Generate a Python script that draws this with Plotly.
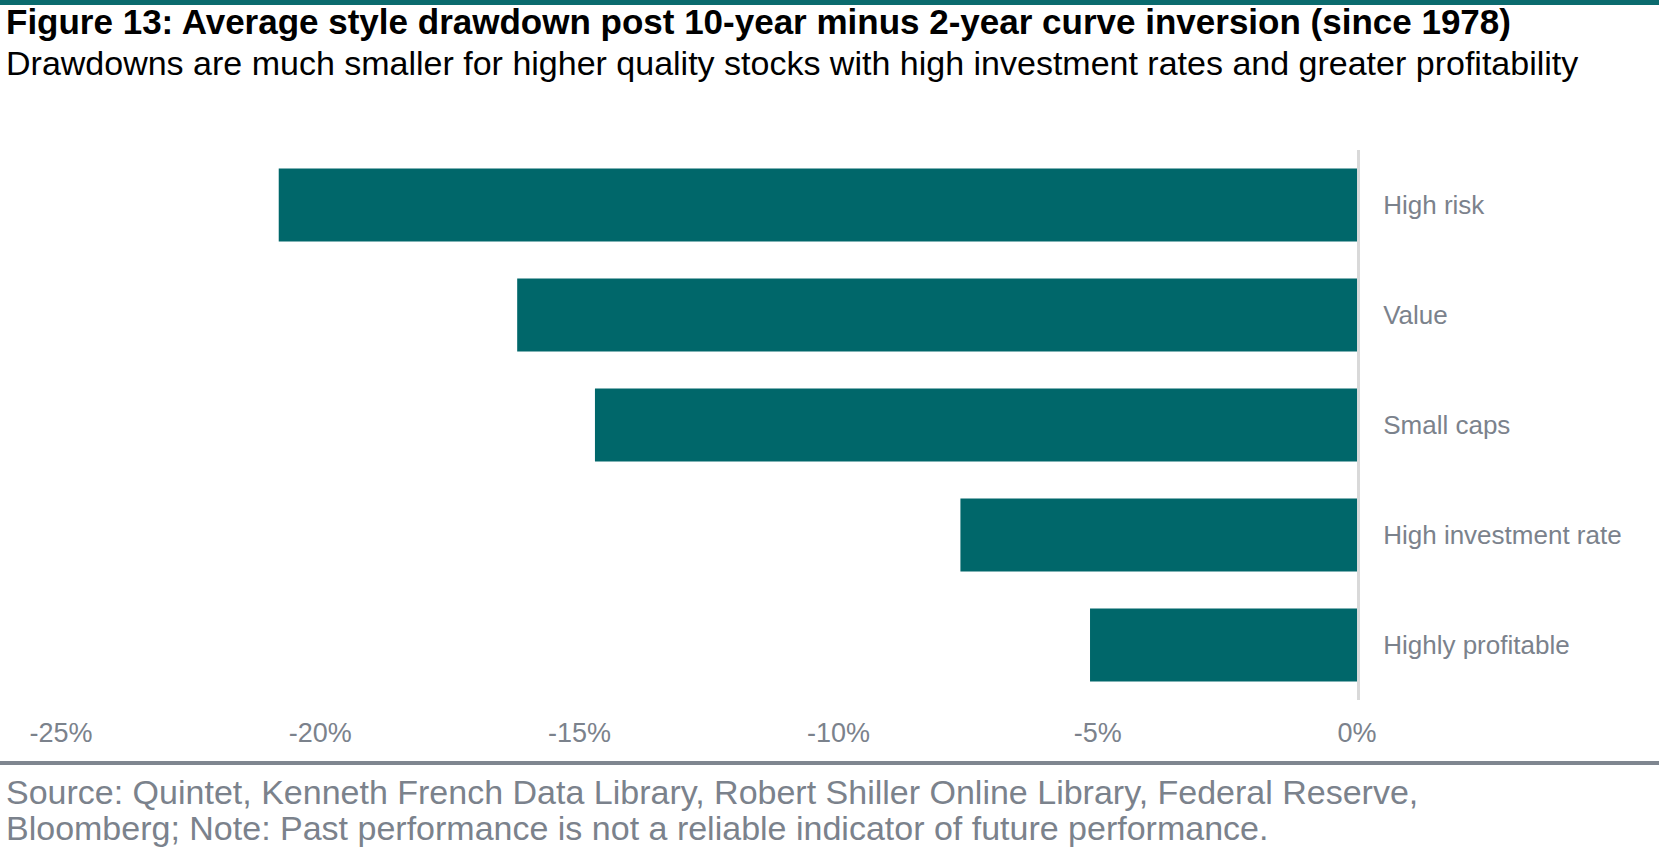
import plotly.graph_objects as go

categories = ["High risk", "Value", "Small caps", "High investment rate", "Highly profitable"]
drawdown = [-20.8, -16.2, -14.7, -7.65, -5.15]
tick_vals = [-25, -20, -15, -10, -5, 0]
tick_text = ["-25%", "-20%", "-15%", "-10%", "-5%", "0%"]

title = "Figure 13: Average style drawdown post 10-year minus 2-year curve inversion (since 1978)"
subtitle = "Drawdowns are much smaller for higher quality stocks with high investment rates and greater profitability"
footnote_1 = "Source: Quintet, Kenneth French Data Library, Robert Shiller Online Library, Federal Reserve,"
footnote_2 = "Bloomberg; Note: Past performance is not a reliable indicator of future performance."

TEAL = "#00676A"
GREY_TXT = "#7B828C"
FONT = "Liberation Sans, Arial, sans-serif"

W, H = 1659, 858
L, R, T, B = 61, 302, 150, 158
PW, PH = W - L - R, H - T - B


def px_x(p):
    return (p - L) / PW


def px_y(p):
    return (H - B - p) / PH


heading = ('<span style="font-size:35px"><b>' + title + '</b></span><br>'
           '<span style="font-size:34px">' + subtitle + '</span>')

fig = go.Figure(go.Bar(
    x=drawdown, y=categories, orientation="h",
    marker=dict(color=TEAL, line=dict(width=0)),
    showlegend=False, hoverinfo="skip",
))

fig.update_layout(
    width=W, height=H,
    margin=dict(l=L, r=R, t=T, b=B),
    paper_bgcolor="white", plot_bgcolor="white",
    bargap=0.336,
    font=dict(family=FONT, color=GREY_TXT, size=28),
    xaxis=dict(range=[-25, 0], tickvals=tick_vals, ticktext=tick_text,
               showgrid=False, zeroline=False, showline=False, ticks="",
               tickfont=dict(size=27, color=GREY_TXT), ticklabelstandoff=14,
               fixedrange=True),
    yaxis=dict(categoryorder="array", categoryarray=categories, autorange="reversed",
               side="right", showgrid=False, zeroline=False,
               showline=True, linecolor="#D9D9D9", linewidth=3, ticks="",
               tickfont=dict(size=26, color=GREY_TXT), ticklabelstandoff=18,
               fixedrange=True),
    shapes=[
        dict(type="line", xref="paper", yref="paper", x0=px_x(0), x1=px_x(W),
             y0=px_y(2.5), y1=px_y(2.5), line=dict(color="#0B6B6E", width=5)),
        dict(type="line", xref="paper", yref="paper", x0=px_x(0), x1=px_x(W),
             y0=px_y(763), y1=px_y(763), line=dict(color="#7F8690", width=4)),
    ],
    annotations=[
        dict(text=heading, xref="paper", yref="paper", x=px_x(4), y=px_y(41.5),
             xanchor="left", yanchor="middle", align="left", showarrow=False,
             font=dict(family=FONT, size=31.5, color="#000000")),
        dict(text=footnote_1, xref="paper", yref="paper", x=px_x(4), y=px_y(792),
             xanchor="left", yanchor="middle", align="left", showarrow=False,
             font=dict(family=FONT, size=34, color=GREY_TXT)),
        dict(text=footnote_2, xref="paper", yref="paper", x=px_x(4), y=px_y(828),
             xanchor="left", yanchor="middle", align="left", showarrow=False,
             font=dict(family=FONT, size=34, color=GREY_TXT)),
    ],
)

fig.write_html("out.html", config={"displayModeBar": False},
               post_script="document.body.style.margin='0';document.body.style.overflow='hidden';")
